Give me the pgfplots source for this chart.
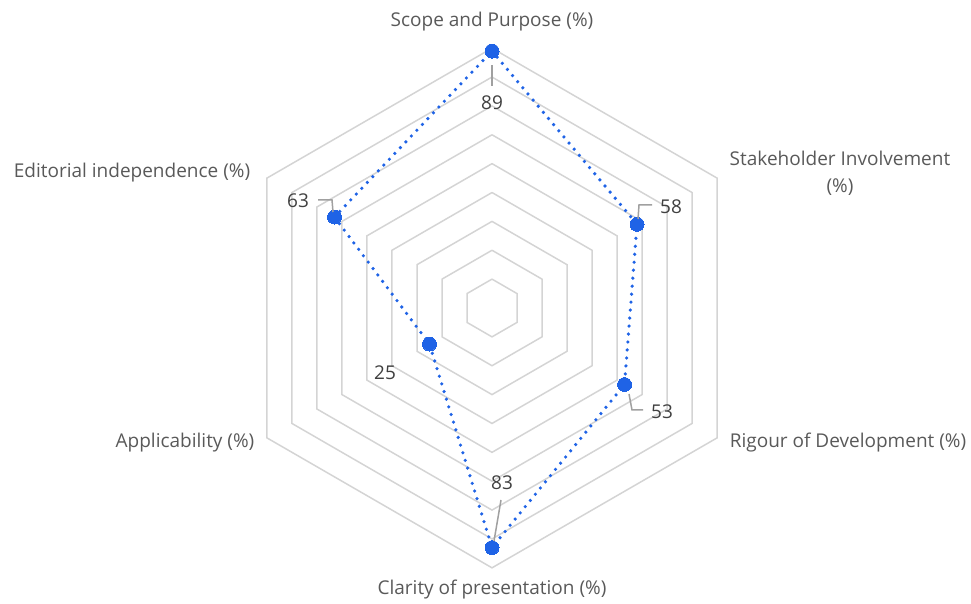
\documentclass[border=0pt]{standalone}
\usepackage{pgfplots}
\pgfplotsset{compat=1.18}
\usepackage{fontspec}
\setmainfont{Open Sans}
\definecolor{gridc}{RGB}{212,212,212}
\definecolor{serc}{RGB}{31,99,230}
\definecolor{txt}{RGB}{89,89,89}
\definecolor{num}{RGB}{64,64,64}
\definecolor{lead}{RGB}{160,160,160}
\newcommand{\fs}{\fontsize{19pt}{27pt}\selectfont}
\begin{document}
\begin{tikzpicture}[x=1pt,y=1pt]
\path[use as bounding box] (0,0) rectangle (971,604);
\begin{axis}[at={(492pt,296pt)}, anchor=origin, x=2.887pt, y=2.887pt,
  xmin=-95,xmax=95,ymin=-95,ymax=95, hide axis, clip=false]
\pgfplotsinvokeforeach{10,20,...,90}{
\addplot[gridc, line width=1.5pt, line join=miter, data cs=polar]
  coordinates {(90,#1) (30,#1) (-30,#1) (-90,#1) (-150,#1) (150,#1) (90,#1)};
}
\addplot[serc, line width=3.6pt, line cap=round, dash pattern=on 0pt off 8pt,
  data cs=polar, mark=*, mark size=7pt,
  mark options={solid, fill=serc, draw=serc, line width=0pt}]
  coordinates {(90,89) (30,58) (-30,53) (-90,83) (-150,25) (150,63) (90,89)};
\end{axis}
% leader lines
\draw[lead, line width=1.5pt] (492,539) -- (492,518);
\draw[lead, line width=1.5pt] (638,385) -- (639,399) -- (652,399);
\draw[lead, line width=1.5pt] (629,210) -- (632,194) -- (643,194);
\draw[lead, line width=1.5pt] (494,63) -- (501,104);
\draw[lead, line width=1.5pt] (333,392) -- (332,404) -- (318,404);
% value labels
\begin{scope}[every node/.style={text=num, font=\fs}]
\node at (492,501) {89};
\node at (671,397) {58};
\node at (662,192) {53};
\node at (502,121) {83};
\node at (385,231) {25};
\node at (298,403) {63};
\end{scope}
% category labels
\begin{scope}[every node/.style={text=txt, font=\fs}]
\node at (492,582) {Scope and Purpose (\%)};
\node[align=center] at (840,431) {Stakeholder Involvement\\(\%)};
\node at (848,161) {Rigour of Development (\%)};
\node at (492,14) {Clarity of presentation (\%)};
\node at (185,161) {Applicability (\%)};
\node at (132,431) {Editorial independence (\%)};
\end{scope}
\end{tikzpicture}
\end{document}
